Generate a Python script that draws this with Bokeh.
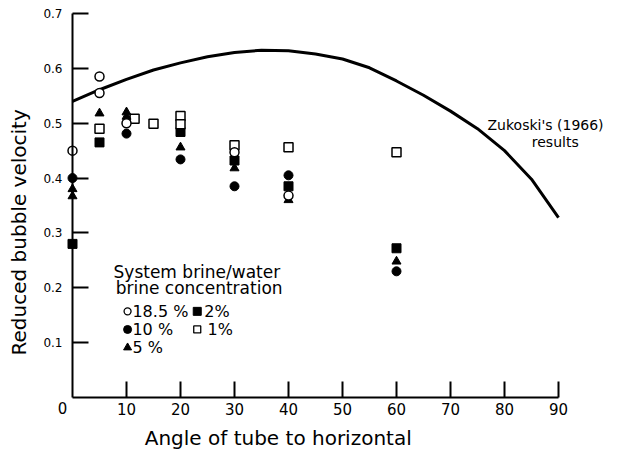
import math
from bokeh.plotting import figure
from bokeh.models import Range1d, FixedTicker, Label, LinearAxis
from bokeh.embed import file_html
from bokeh.resources import INLINE

# ---- data ----
curve_angle = [0, 5, 10, 15, 20, 25, 30, 35, 40, 45, 50, 55, 60, 65, 70, 75, 80, 85, 90]
curve_v = [0.540, 0.561, 0.580, 0.597, 0.610, 0.621, 0.629, 0.633, 0.632, 0.626,
           0.617, 0.601, 0.577, 0.551, 0.522, 0.490, 0.450, 0.398, 0.328]

angle_185 = [0, 5, 5, 10, 30, 40]
v_185 = [0.450, 0.585, 0.555, 0.500, 0.447, 0.368]

angle_10 = [0, 10, 20, 30, 40, 60]
v_10 = [0.400, 0.481, 0.434, 0.385, 0.405, 0.230]

angle_5 = [0, 0, 5, 10, 10, 20, 30, 40, 60]
v_5 = [0.380, 0.367, 0.518, 0.520, 0.512, 0.456, 0.418, 0.360, 0.248]

angle_2 = [0, 5, 20, 30, 40, 60]
v_2 = [0.280, 0.465, 0.484, 0.432, 0.385, 0.272]

angle_1 = [5, 11.5, 15, 20, 20, 30, 40, 60]
v_1 = [0.490, 0.508, 0.499, 0.513, 0.498, 0.460, 0.456, 0.447]

x_ticks = [10, 20, 30, 40, 50, 60, 70, 80, 90]
y_ticks = [0.1, 0.2, 0.3, 0.4, 0.5, 0.6, 0.7]

FONT = "DejaVu Sans"
W, H = 628, 451
X0, PXX = 72, 5.4      # pixel of angle 0, pixels per degree
Y0, PXY = 397, 548.6   # pixel of velocity 0, pixels per unit

p = figure(width=W, height=H, output_backend="svg", toolbar_location=None,
           x_range=Range1d(-X0 / PXX, (W - X0) / PXX),
           y_range=Range1d((Y0 - H) / PXY, Y0 / PXY),
           x_axis_location=None, y_axis_location=None,
           min_border=0)
p.outline_line_color = None
p.grid.visible = False
p.background_fill_color = "white"
p.border_fill_color = "white"

xax = LinearAxis(fixed_location=0, bounds=(0, 90), ticker=FixedTicker(ticks=x_ticks))
yax = LinearAxis(fixed_location=0, bounds=(0, 0.7), ticker=FixedTicker(ticks=y_ticks))
for ax in (xax, yax):
    ax.axis_line_width = 2
    ax.axis_line_color = "black"
    ax.major_tick_line_width = 2
    ax.major_tick_line_color = "black"
    ax.major_tick_in = 16
    ax.major_tick_out = 0
    ax.minor_tick_line_color = None
    ax.major_label_text_font = FONT
    ax.major_label_text_color = "black"
xax.major_label_text_font_size = "15px"
yax.major_label_text_font_size = "12px"
xax.major_label_standoff = 5
yax.major_label_standoff = 10
p.add_layout(xax, "below")
p.add_layout(yax, "left")

# Zukoski curve
p.line(curve_angle, curve_v, line_color="black", line_width=3)

# data series
MS = 9
p.scatter(angle_2, v_2, marker="square", size=MS, fill_color="black", line_color="black")
p.scatter(angle_1, v_1, marker="square", size=MS, fill_color="white", line_color="black", line_width=1.5)
p.scatter(angle_10, v_10, marker="circle", size=MS, fill_color="black", line_color="black")
p.scatter(angle_5, v_5, marker="triangle", size=MS, fill_color="black", line_color="black")
p.scatter(angle_185, v_185, marker="circle", size=MS, fill_color="white", line_color="black", line_width=1.5)

def lab(x, y, t, size, align="left", baseline="middle", angle=0):
    p.add_layout(Label(x=x, y=y, text=t, text_font=FONT, text_font_size=size,
                       text_align=align, text_baseline=baseline, angle=angle,
                       text_color="black"))

# origin label
lab(-1.85, -0.02, "0", "15px", align="center")

# axis titles
lab(38.1, -0.073, "Angle of tube to horizontal", "20px", align="center")
lab(-10.0, 0.301, "Reduced bubble velocity", "20px", align="center", angle=math.pi / 2)

# curve annotation
lab(87.6, 0.496, "Zukoski's (1966)", "14px", align="center")
lab(89.4, 0.465, "results", "14px", align="center")

# legend
lab(7.6, 0.228, "System brine/water", "17px")
lab(8.0, 0.200, "brine concentration", "17px")
leg_x1, leg_x2 = 10.2, 23.1
rows = [0.157, 0.124, 0.091]
LS = 7
p.scatter([leg_x1], [rows[0]], marker="circle", size=LS, fill_color="white", line_color="black", line_width=1.3)
p.scatter([leg_x2], [rows[0]], marker="square", size=LS + 1, fill_color="black", line_color="black")
p.scatter([leg_x1], [rows[1]], marker="circle", size=LS + 1, fill_color="black", line_color="black")
p.scatter([leg_x2], [rows[1]], marker="square", size=LS, fill_color="white", line_color="black", line_width=1.3)
p.scatter([leg_x1], [rows[2]], marker="triangle", size=LS + 1, fill_color="black", line_color="black")
lab(11.1, rows[0], "18.5 %", "16px")
lab(24.4, rows[0], "2%", "16px")
lab(11.1, rows[1], "10 %", "16px")
lab(25.0, rows[1], "1%", "16px")
lab(11.1, rows[2], "5 %", "16px")

open("out.html", "w").write(file_html(p, INLINE))
